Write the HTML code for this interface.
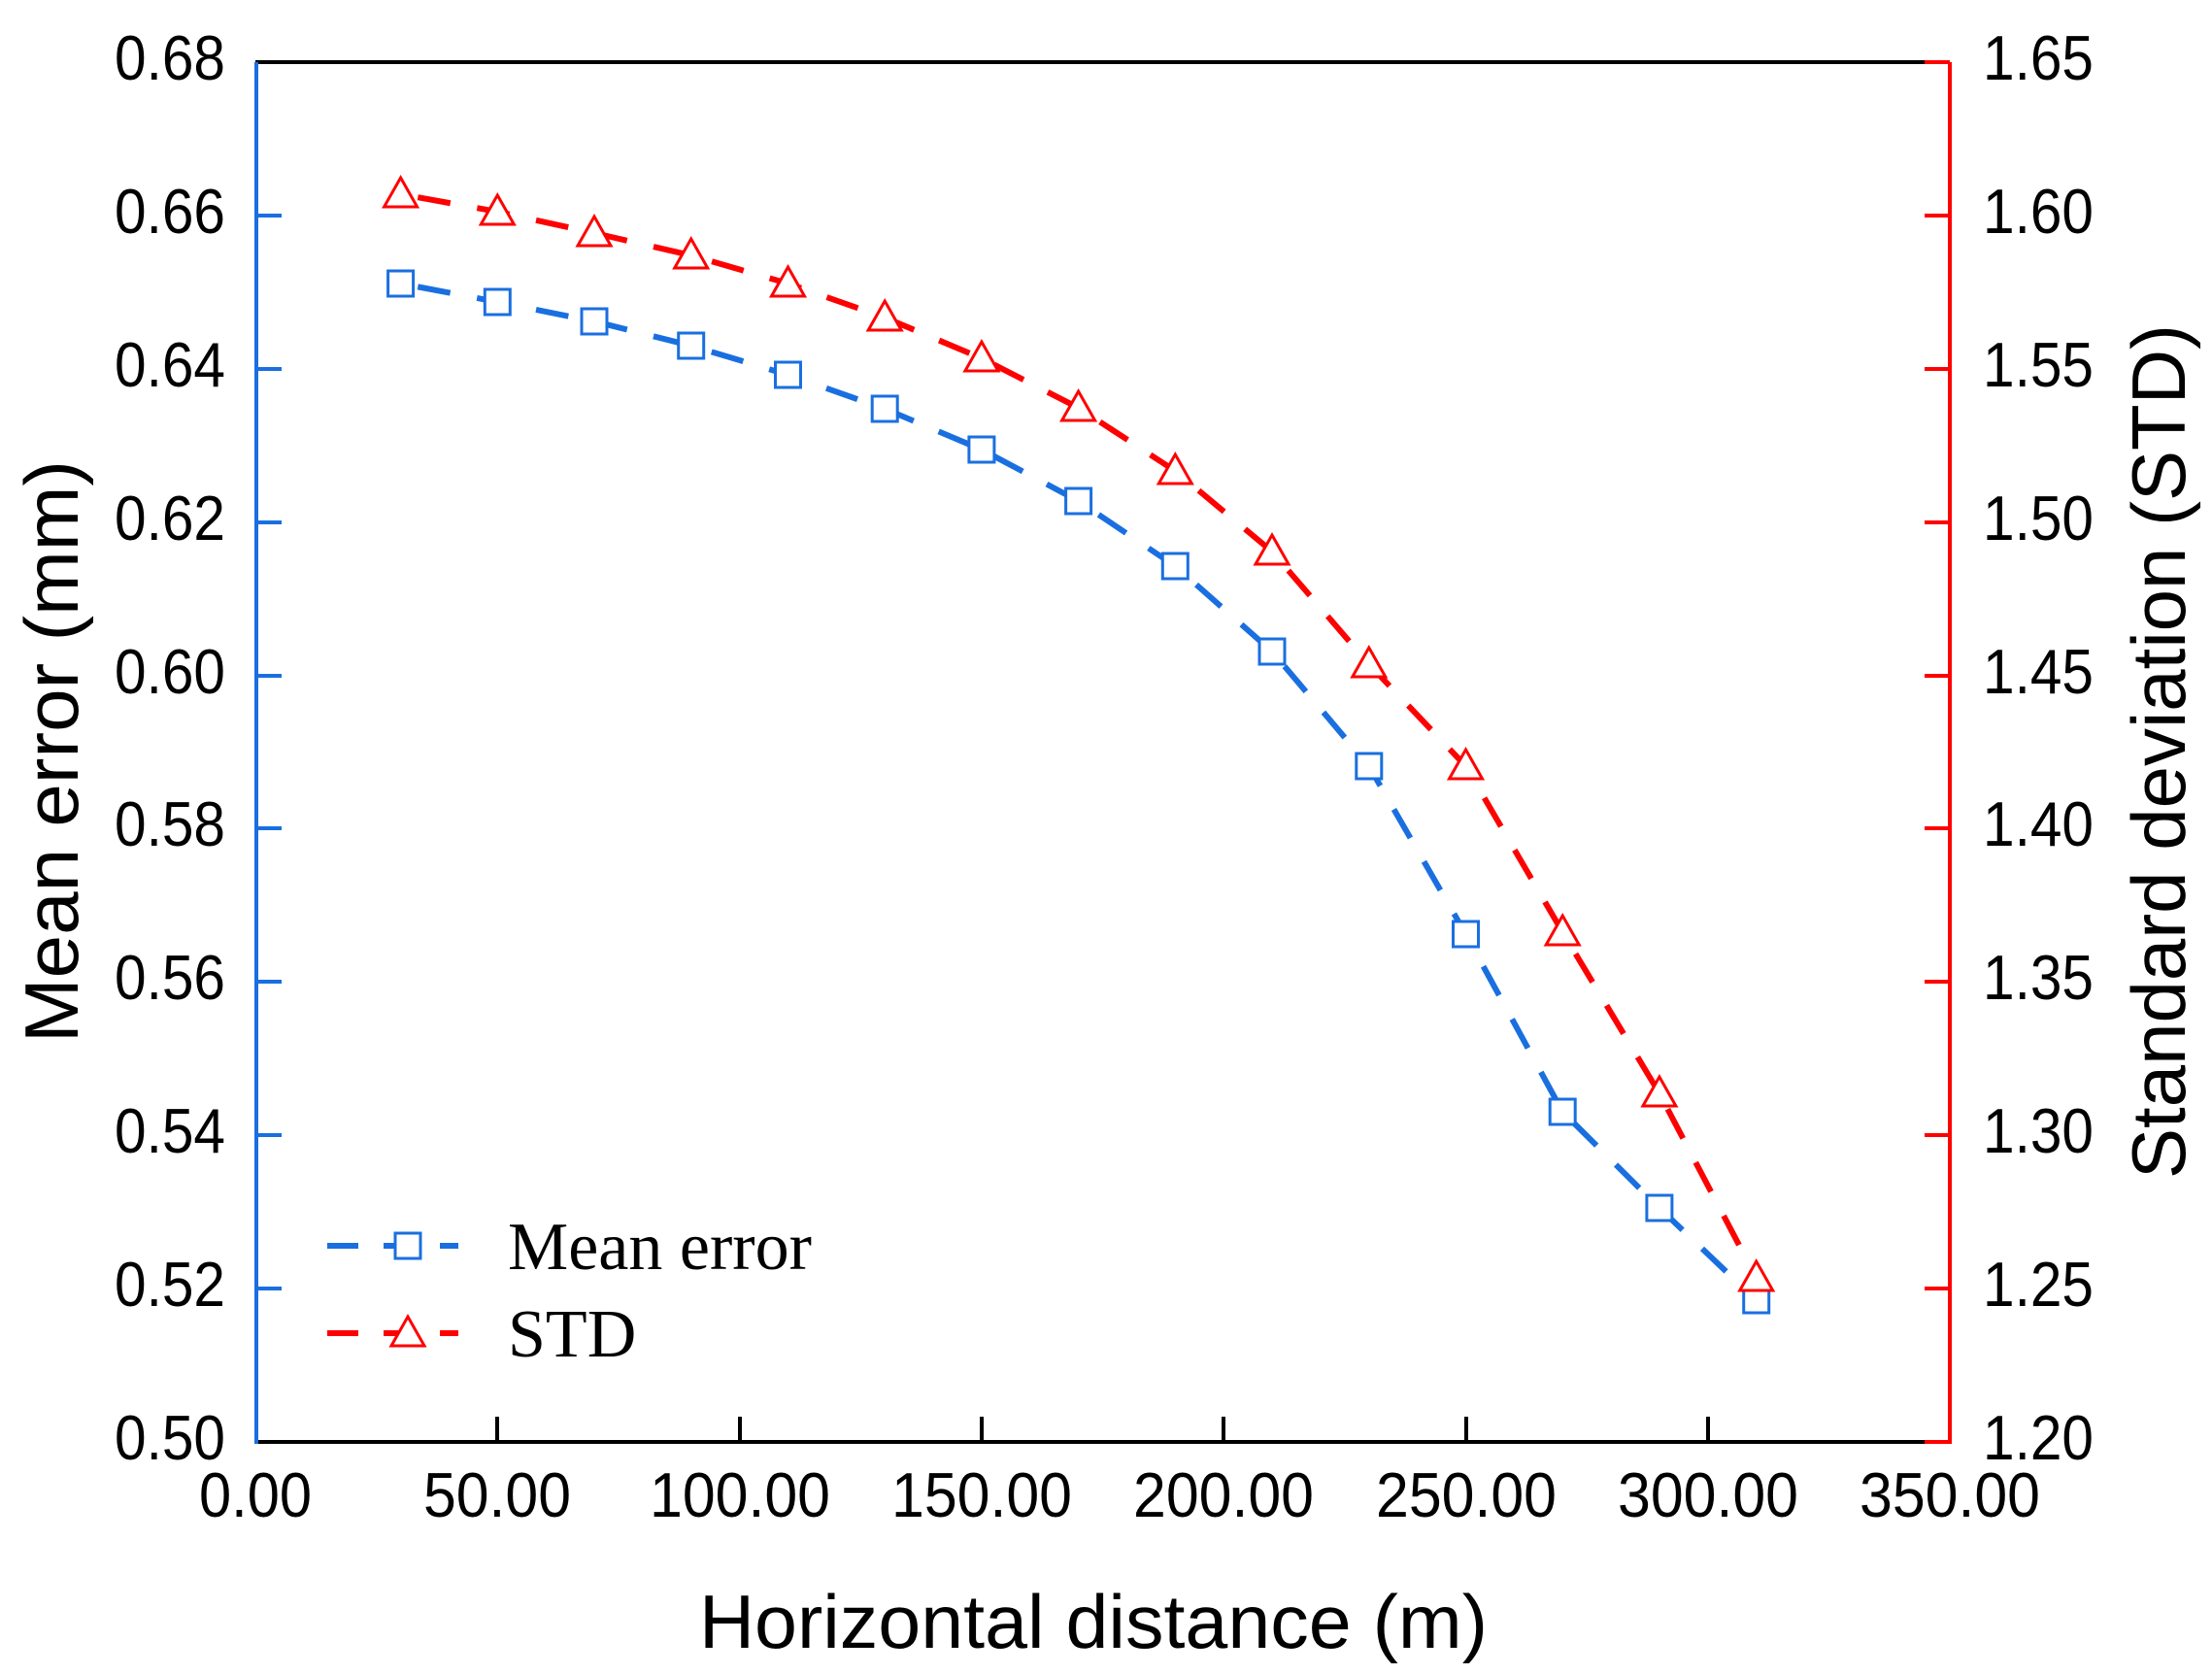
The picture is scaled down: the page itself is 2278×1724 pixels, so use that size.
<!DOCTYPE html>
<html><head><meta charset="utf-8"><style>
html,body{margin:0;padding:0;background:#fff;}
svg{display:block;}
text{font-family:"Liberation Sans",sans-serif;fill:#000;}
</style></head><body>
<svg width="2278" height="1724" viewBox="0 0 2278 1724" xmlns="http://www.w3.org/2000/svg">
<rect width="2278" height="1724" fill="#fff"/>
<line x1="263" y1="64" x2="1982" y2="64" stroke="#000" stroke-width="4"/>
<line x1="263" y1="1485" x2="1982" y2="1485" stroke="#000" stroke-width="4"/>
<line x1="1982" y1="64" x2="2008" y2="64" stroke="#f00" stroke-width="4"/>
<line x1="1982" y1="1485" x2="2008" y2="1485" stroke="#f00" stroke-width="4"/>
<line x1="264" y1="64" x2="264" y2="1487" stroke="#1a6fe0" stroke-width="4"/>
<line x1="2008" y1="64" x2="2008" y2="1487" stroke="#f00" stroke-width="4"/>
<g stroke="#1a6fe0" stroke-width="4">
<line x1="264" y1="222" x2="290" y2="222"/><line x1="264" y1="380" x2="290" y2="380"/>
<line x1="264" y1="538" x2="290" y2="538"/><line x1="264" y1="696" x2="290" y2="696"/>
<line x1="264" y1="853" x2="290" y2="853"/><line x1="264" y1="1011" x2="290" y2="1011"/>
<line x1="264" y1="1169" x2="290" y2="1169"/><line x1="264" y1="1327" x2="290" y2="1327"/>
</g>
<g stroke="#f00" stroke-width="4">
<line x1="1982" y1="222" x2="2008" y2="222"/><line x1="1982" y1="380" x2="2008" y2="380"/>
<line x1="1982" y1="538" x2="2008" y2="538"/><line x1="1982" y1="696" x2="2008" y2="696"/>
<line x1="1982" y1="853" x2="2008" y2="853"/><line x1="1982" y1="1011" x2="2008" y2="1011"/>
<line x1="1982" y1="1169" x2="2008" y2="1169"/><line x1="1982" y1="1327" x2="2008" y2="1327"/>
</g>
<g stroke="#000" stroke-width="4">
<line x1="512" y1="1485" x2="512" y2="1459"/><line x1="762" y1="1485" x2="762" y2="1459"/>
<line x1="1011" y1="1485" x2="1011" y2="1459"/><line x1="1260" y1="1485" x2="1260" y2="1459"/>
<line x1="1510" y1="1485" x2="1510" y2="1459"/><line x1="1759" y1="1485" x2="1759" y2="1459"/>
</g>
<g font-size="65" text-anchor="end">
<text x="232" y="82" textLength="114" lengthAdjust="spacingAndGlyphs">0.68</text>
<text x="232" y="240" textLength="114" lengthAdjust="spacingAndGlyphs">0.66</text>
<text x="232" y="398" textLength="114" lengthAdjust="spacingAndGlyphs">0.64</text>
<text x="232" y="556" textLength="114" lengthAdjust="spacingAndGlyphs">0.62</text>
<text x="232" y="714" textLength="114" lengthAdjust="spacingAndGlyphs">0.60</text>
<text x="232" y="871" textLength="114" lengthAdjust="spacingAndGlyphs">0.58</text>
<text x="232" y="1029" textLength="114" lengthAdjust="spacingAndGlyphs">0.56</text>
<text x="232" y="1187" textLength="114" lengthAdjust="spacingAndGlyphs">0.54</text>
<text x="232" y="1345" textLength="114" lengthAdjust="spacingAndGlyphs">0.52</text>
<text x="232" y="1503" textLength="114" lengthAdjust="spacingAndGlyphs">0.50</text>
</g>
<g font-size="65" text-anchor="start">
<text x="2042" y="82" textLength="114" lengthAdjust="spacingAndGlyphs">1.65</text>
<text x="2042" y="240" textLength="114" lengthAdjust="spacingAndGlyphs">1.60</text>
<text x="2042" y="398" textLength="114" lengthAdjust="spacingAndGlyphs">1.55</text>
<text x="2042" y="556" textLength="114" lengthAdjust="spacingAndGlyphs">1.50</text>
<text x="2042" y="714" textLength="114" lengthAdjust="spacingAndGlyphs">1.45</text>
<text x="2042" y="871" textLength="114" lengthAdjust="spacingAndGlyphs">1.40</text>
<text x="2042" y="1029" textLength="114" lengthAdjust="spacingAndGlyphs">1.35</text>
<text x="2042" y="1187" textLength="114" lengthAdjust="spacingAndGlyphs">1.30</text>
<text x="2042" y="1345" textLength="114" lengthAdjust="spacingAndGlyphs">1.25</text>
<text x="2042" y="1503" textLength="114" lengthAdjust="spacingAndGlyphs">1.20</text>
</g>
<g font-size="65" text-anchor="middle">
<text x="263" y="1562" textLength="116" lengthAdjust="spacingAndGlyphs">0.00</text>
<text x="512" y="1562" textLength="152" lengthAdjust="spacingAndGlyphs">50.00</text>
<text x="762" y="1562" textLength="186" lengthAdjust="spacingAndGlyphs">100.00</text>
<text x="1011" y="1562" textLength="186" lengthAdjust="spacingAndGlyphs">150.00</text>
<text x="1260" y="1562" textLength="186" lengthAdjust="spacingAndGlyphs">200.00</text>
<text x="1510" y="1562" textLength="186" lengthAdjust="spacingAndGlyphs">250.00</text>
<text x="1759" y="1562" textLength="186" lengthAdjust="spacingAndGlyphs">300.00</text>
<text x="2008" y="1562" textLength="186" lengthAdjust="spacingAndGlyphs">350.00</text>
</g>
<text x="1126" y="1697" font-size="78" text-anchor="middle" textLength="812" lengthAdjust="spacingAndGlyphs">Horizontal distance (m)</text>
<text transform="translate(80,774) rotate(-90)" font-size="78" text-anchor="middle" textLength="600" lengthAdjust="spacingAndGlyphs">Mean error (mm)</text>
<text transform="translate(2250,774) rotate(-90)" font-size="78" text-anchor="middle" textLength="880" lengthAdjust="spacingAndGlyphs">Standard deviation (STD)</text>
<polyline fill="none" stroke="#1a6fe0" stroke-width="6" stroke-dasharray="34 28" stroke-dashoffset="-18"
points="412.6,292 512.3,311 612,331 711.7,356 811.5,386 911.2,421 1010.9,463 1110.6,516 1210.3,583 1310,671 1409.8,789 1509.5,962 1609.2,1145 1708.9,1244 1808.7,1339"/>
<polyline fill="none" stroke="#f00" stroke-width="6" stroke-dasharray="34 28" stroke-dashoffset="-18"
points="412.6,200 512.3,218 612,240 711.7,263 811.5,292 911.2,327 1010.9,369 1110.6,420 1210.3,485 1310,568 1409.8,684 1509.5,789 1609.2,960 1708.9,1126 1808.7,1316"/>
<g fill="#fff" stroke="#1a6fe0" stroke-width="3">
<rect x="399.6" y="279" width="26" height="26"/><rect x="499.3" y="298" width="26" height="26"/>
<rect x="599" y="318" width="26" height="26"/><rect x="698.7" y="343" width="26" height="26"/>
<rect x="798.5" y="373" width="26" height="26"/><rect x="898.2" y="408" width="26" height="26"/>
<rect x="997.9" y="450" width="26" height="26"/><rect x="1097.6" y="503" width="26" height="26"/>
<rect x="1197.3" y="570" width="26" height="26"/><rect x="1297" y="658" width="26" height="26"/>
<rect x="1396.8" y="776" width="26" height="26"/><rect x="1496.5" y="949" width="26" height="26"/>
<rect x="1596.2" y="1132" width="26" height="26"/><rect x="1695.9" y="1231" width="26" height="26"/>
<rect x="1795.7" y="1326" width="26" height="26"/>
</g>
<g fill="#fff" stroke="#f00" stroke-width="3">
<polygon points="412.6,183 429.6,213 395.6,213"/><polygon points="512.3,201 529.3,231 495.3,231"/>
<polygon points="612,223 629,253 595,253"/><polygon points="711.7,246 728.7,276 694.7,276"/>
<polygon points="811.5,275 828.5,305 794.5,305"/><polygon points="911.2,310 928.2,340 894.2,340"/>
<polygon points="1010.9,352 1027.9,382 993.9,382"/><polygon points="1110.6,403 1127.6,433 1093.6,433"/>
<polygon points="1210.3,468 1227.3,498 1193.3,498"/><polygon points="1310,551 1327,581 1293,581"/>
<polygon points="1409.8,667 1426.8,697 1392.8,697"/><polygon points="1509.5,772 1526.5,802 1492.5,802"/>
<polygon points="1609.2,943 1626.2,973 1592.2,973"/><polygon points="1708.9,1109 1725.9,1139 1691.9,1139"/>
<polygon points="1808.7,1299 1825.7,1329 1791.7,1329"/>
</g>
<line x1="337" y1="1283" x2="472" y2="1283" stroke="#1a6fe0" stroke-width="6" stroke-dasharray="32 26"/>
<rect x="407" y="1270" width="26" height="26" fill="#fff" stroke="#1a6fe0" stroke-width="3"/>
<text x="523" y="1307" font-size="70" style="font-family:'Liberation Serif',serif">Mean error</text>
<line x1="337" y1="1373" x2="472" y2="1373" stroke="#f00" stroke-width="6" stroke-dasharray="32 26"/>
<polygon points="420,1356 437,1386 403,1386" fill="#fff" stroke="#f00" stroke-width="3"/>
<text x="523" y="1397" font-size="70" style="font-family:'Liberation Serif',serif">STD</text>
</svg>
</body></html>
